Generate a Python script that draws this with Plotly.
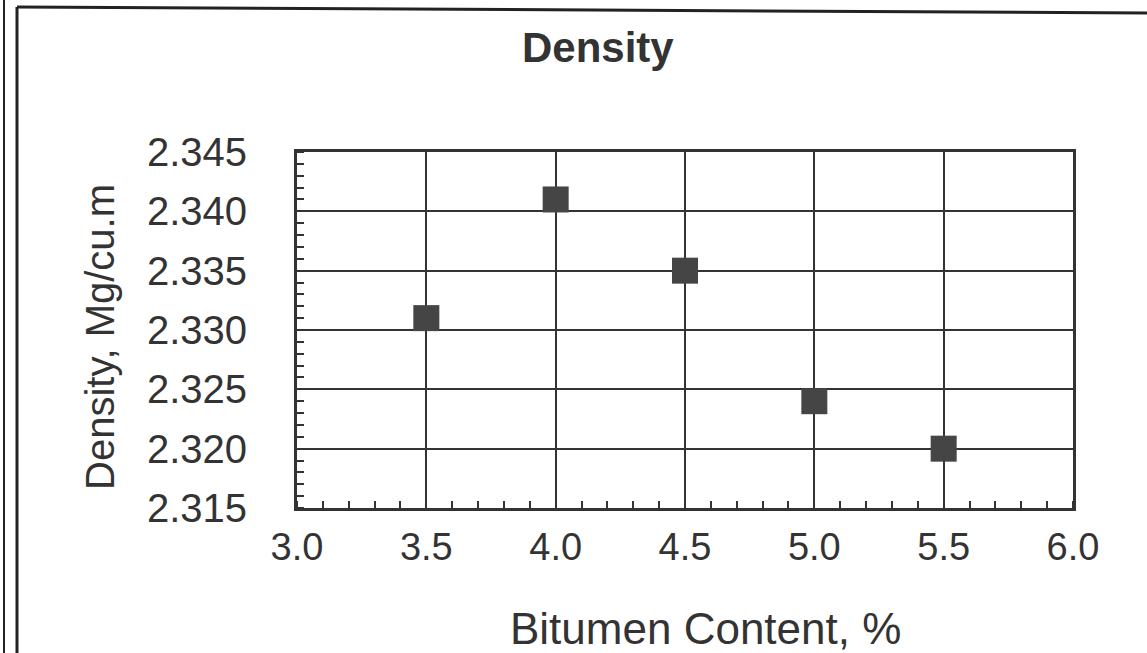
import plotly.graph_objects as go

bitumen = [3.5, 4.0, 4.5, 5.0, 5.5]
density = [2.331, 2.341, 2.335, 2.324, 2.320]
x_ticks = [3.0, 3.5, 4.0, 4.5, 5.0, 5.5, 6.0]
x_labels = ["3.0", "3.5", "4.0", "4.5", "5.0", "5.5", "6.0"]
y_ticks = [2.315, 2.320, 2.325, 2.330, 2.335, 2.340, 2.345]
y_labels = ["2.315", "2.320", "2.325", "2.330", "2.335", "2.340", "2.345"]

W, H = 1147, 653
L, R, T, B = 297, 74, 152, 145
PW, PH = W - L - R, H - T - B

def px(x):
    return (x - L) / PW

def py(y):
    return (H - B - y) / PH

FONT = "Liberation Sans, Arial, sans-serif"
INK = "#333333"

fig = go.Figure()
fig.add_trace(go.Scatter(
    x=bitumen, y=density, mode="markers",
    marker=dict(symbol="square", size=26, color="#454545",
                line=dict(width=0)),
    showlegend=False, cliponaxis=False,
))

axis_common = dict(
    showline=True, linecolor=INK, linewidth=3, mirror=True,
    showgrid=True, gridcolor="#333333", gridwidth=2,
    zeroline=False, ticks="",
)

fig.update_xaxes(
    range=[3.0, 6.0], tickvals=x_ticks, ticktext=x_labels,
    ticklabelstandoff=3,
    tickfont=dict(family=FONT, size=38, color=INK),
    minor=dict(ticks="inside", dtick=0.1, ticklen=7, tickwidth=2,
               tickcolor=INK, showgrid=False),
    **axis_common,
)
fig.update_yaxes(
    range=[2.315, 2.345], tickvals=y_ticks, ticktext=y_labels,
    ticklabelstandoff=39,
    tickfont=dict(family=FONT, size=40, color=INK),
    minor=dict(ticks="inside", dtick=0.001, ticklen=7, tickwidth=2,
               tickcolor=INK, showgrid=False),
    **axis_common,
)

annotations = [
    dict(text="<b>Density</b>", x=px(598), y=py(48), xref="paper", yref="paper",
         showarrow=False, font=dict(family=FONT, size=42, color=INK),
         xanchor="center", yanchor="middle"),
    dict(text="Bitumen Content, %", x=px(705), y=py(628), xref="paper", yref="paper",
         showarrow=False, font=dict(family=FONT, size=44, color=INK),
         xanchor="center", yanchor="middle"),
    dict(text="Density, Mg/cu.m", x=px(100), y=py(337), xref="paper", yref="paper",
         showarrow=False, textangle=-90, font=dict(family=FONT, size=40, color=INK),
         xanchor="center", yanchor="middle"),
]

shapes = [
    dict(type="line", xref="paper", yref="paper", x0=px(4), x1=px(4), y0=py(0), y1=py(653),
         line=dict(color="#222222", width=2)),
    dict(type="line", xref="paper", yref="paper", x0=px(17), x1=px(17), y0=py(7), y1=py(653),
         line=dict(color="#222222", width=3)),
    dict(type="line", xref="paper", yref="paper", x0=px(17), x1=px(1147), y0=py(7), y1=py(13),
         line=dict(color="#222222", width=3)),
]

fig.update_layout(
    width=W, height=H,
    margin=dict(l=L, r=R, t=T, b=B, autoexpand=False),
    paper_bgcolor="white", plot_bgcolor="white",
    annotations=annotations, shapes=shapes,
    showlegend=False,
)

fig.write_html("out.html")
